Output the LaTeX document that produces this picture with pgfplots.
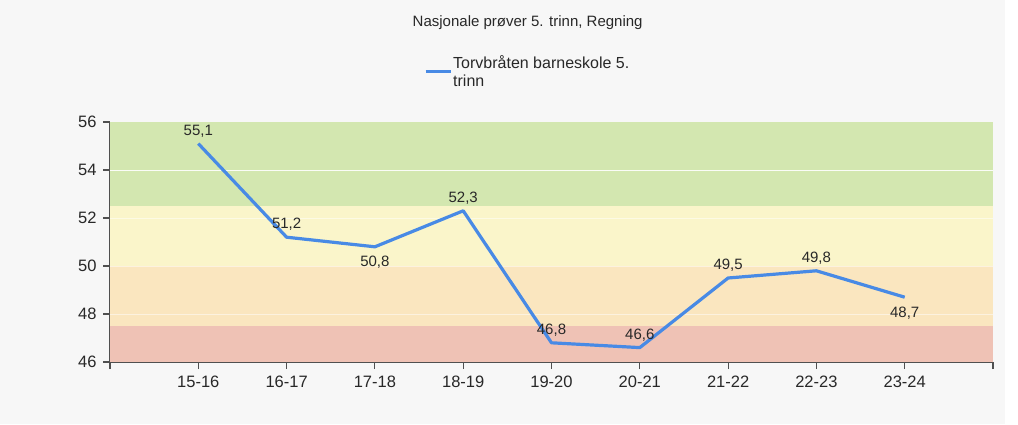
\documentclass[border=0pt]{standalone}
\usepackage{fontspec}
\setmainfont{Liberation Sans}
\usepackage{pgfplots}
\usepackage{pgfplotstable}
\pgfplotsset{compat=1.18}
\definecolor{bggray}{RGB}{247,247,247}
\definecolor{bandgreen}{RGB}{211,231,176}
\definecolor{bandyellow}{RGB}{250,245,202}
\definecolor{bandorange}{RGB}{250,230,191}
\definecolor{bandred}{RGB}{239,194,181}
\definecolor{lineblue}{RGB}{72,138,229}
\definecolor{axisgray}{RGB}{80,80,80}
\definecolor{txt}{RGB}{40,40,40}
\pgfplotstableread{
x y lab
0 55.1 {55,1}
1 51.2 {51,2}
2 50.8 {50,8}
3 52.3 {52,3}
4 46.8 {46,8}
5 46.6 {46,6}
6 49.5 {49,5}
7 49.8 {49,8}
8 48.7 {48,7}
}\datatable
\pgfplotstableread{
x y lab
0 55.1 {55,1}
1 51.2 {51,2}
3 52.3 {52,3}
4 46.8 {46,8}
5 46.6 {46,6}
6 49.5 {49,5}
7 49.8 {49,8}
}\abovetable
\pgfplotstableread{
x y lab
2 50.8 {50,8}
8 48.7 {48,7}
}\belowtable
\begin{document}
\begin{tikzpicture}
\useasboundingbox (0,0) rectangle (1018pt,424pt);
\fill[white] (0,0) rectangle (1018pt,424pt);
\fill[bggray] (0,0) rectangle (1005pt,424pt);
\begin{axis}[
  at={(110pt,62pt)}, anchor=south west,
  scale only axis, width=883pt, height=240pt,
  xmin=-1, xmax=9, ymin=46, ymax=56,
  axis x line*=bottom, axis y line*=left,
  axis line style={axisgray, line width=1.6pt},
  xtick={-1,0,1,2,3,4,5,6,7,8,9},
  xticklabels={,15-16,16-17,17-18,18-19,19-20,20-21,21-22,22-23,23-24,},
  ytick={46,48,50,52,54,56},
  tick style={axisgray, line width=1.1pt},
  major tick length=7pt,
  tick align=outside,
  /pgf/number format/assume math mode=true,
  ticklabel style={font=\fontsize{16.5}{19}\selectfont, text=txt},
  x tick label style={yshift=-3pt},
  y tick label style={xshift=-3pt},
  legend style={draw=none, fill=none, at={(rel axis cs:0.352,1.29)}, anchor=north west,
    font=\fontsize{16}{18}\selectfont, text=txt, nodes={inner sep=1pt},
    cells={align=left}},
  legend image code/.code={\draw[#1] (0pt,0pt) -- (25pt,0pt);},
  legend cell align=left,
  clip=false,
]
\addplot[fill=bandred, draw=none, forget plot] coordinates {(-1,46) (9,46) (9,47.5) (-1,47.5)} -- cycle;
\addplot[fill=bandorange, draw=none, forget plot] coordinates {(-1,47.5) (9,47.5) (9,50) (-1,50)} -- cycle;
\addplot[fill=bandyellow, draw=none, forget plot] coordinates {(-1,50) (9,50) (9,52.5) (-1,52.5)} -- cycle;
\addplot[fill=bandgreen, draw=none, forget plot] coordinates {(-1,52.5) (9,52.5) (9,56) (-1,56)} -- cycle;
\addplot[white, opacity=0.5, line width=1pt, forget plot] coordinates {(-1,48) (9,48)};
\addplot[white, opacity=0.5, line width=1pt, forget plot] coordinates {(-1,50) (9,50)};
\addplot[white, opacity=0.5, line width=1pt, forget plot] coordinates {(-1,52) (9,52)};
\addplot[white, opacity=0.9, line width=1pt, forget plot] coordinates {(-1,54) (9,54)};
\addplot[lineblue, line width=3.2pt, no markers, line join=round] table[x=x, y=y] {\datatable};
\addlegendentry{Torvbråten barneskole 5.\\trinn}
\addplot[draw=none, no markers, forget plot, nodes near coords, point meta=explicit symbolic,
  every node near coord/.append style={anchor=south, font=\fontsize{15}{17}\selectfont, text=txt, yshift=3pt}]
  table[x=x, y=y, meta=lab] {\abovetable};
\addplot[draw=none, no markers, forget plot, nodes near coords, point meta=explicit symbolic,
  every node near coord/.append style={anchor=north, font=\fontsize{15}{17}\selectfont, text=txt, yshift=-6pt}]
  table[x=x, y=y, meta=lab] {\belowtable};
\node[font=\fontsize{15}{17}\selectfont, text=txt] at (rel axis cs:0.473,1.415) {Nasjonale prøver 5. trinn, Regning};
\end{axis}
\end{tikzpicture}
\end{document}
